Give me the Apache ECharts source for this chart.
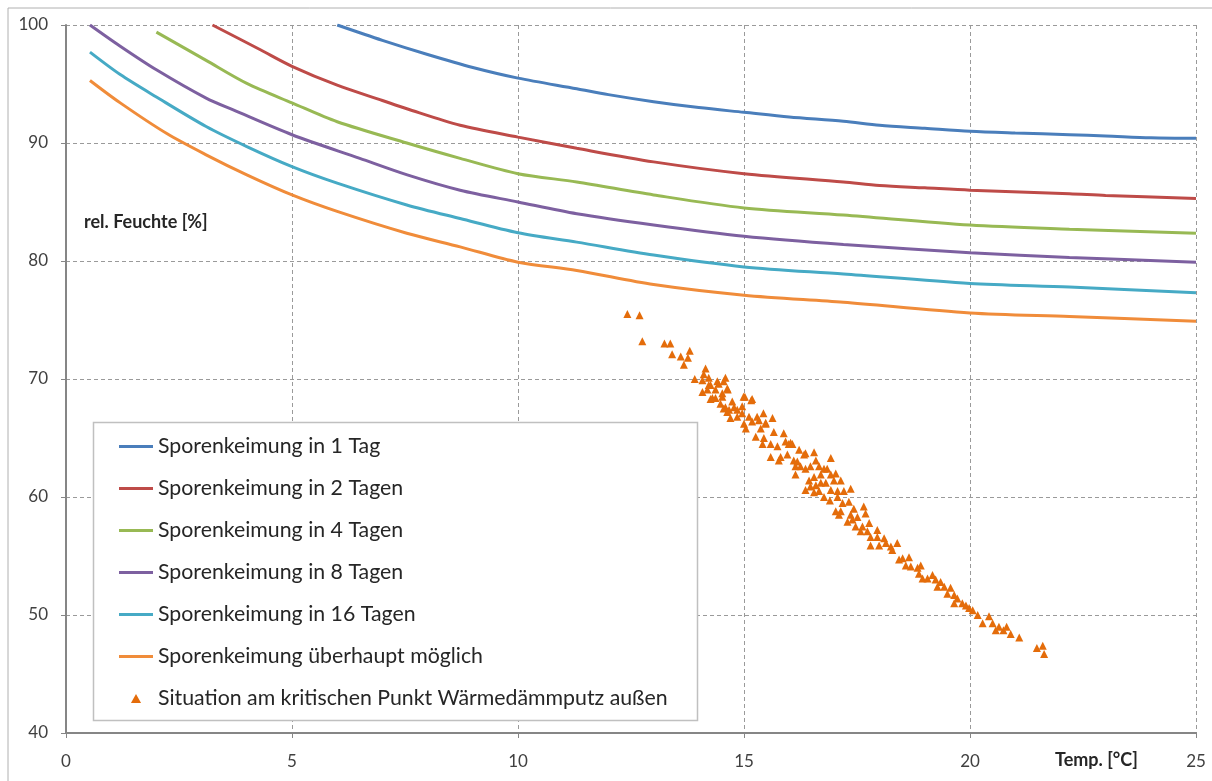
<!DOCTYPE html>
<html><head><meta charset="utf-8">
<script src="https://cdn.jsdelivr.net/npm/echarts@6/dist/echarts.min.js"></script>
<style>html,body{margin:0;padding:0;background:#fff}#c{width:1212px;height:781px}</style>
</head><body><div id="c"></div>
<script>
var seriesNames = ['Sporenkeimung in 1 Tag','Sporenkeimung in 2 Tagen','Sporenkeimung in 4 Tagen','Sporenkeimung in 8 Tagen','Sporenkeimung in 16 Tagen','Sporenkeimung überhaupt möglich','Situation am kritischen Punkt Wärmedämmputz außen'];
var xTicks = [0,5,10,15,20,25];
var yTicks = [40,50,60,70,80,90,100];
var tag1 = [[6.0,100],[7,98.7],[8,97.5],[9,96.4],[10,95.5],[11.3,94.6],[12,94.1],[13,93.5],[14,93.0],[15,92.6],[16,92.2],[17.2,91.85],[18,91.5],[19,91.25],[20,91.0],[21,90.85],[22.2,90.7],[23,90.6],[24,90.45],[25,90.4]];
var tag2 = [[3.24,100],[4.3,97.9],[5,96.5],[6,94.9],[7,93.6],[7.54,92.9],[8.72,91.5],[10,90.5],[11.3,89.55],[13,88.4],[15,87.4],[17.2,86.7],[18,86.4],[19,86.2],[20,86.0],[22.2,85.7],[23,85.55],[25,85.3]];
var tag4 = [[2,99.4],[3.1,97.0],[4,95.05],[5,93.4],[6,91.8],[7.54,90.0],[8.72,88.7],[10,87.4],[11.3,86.7],[13,85.6],[15,84.5],[17.2,83.9],[20,83.05],[22.2,82.7],[25,82.35]];
var tag8 = [[0.53,100],[1.2,98.2],[2,96.2],[3.1,93.8],[3.7,92.8],[5,90.7],[6.5,88.7],[7.55,87.3],[8.72,86.0],[10,85.0],[11.3,84.0],[13,83.05],[15,82.1],[17.2,81.4],[20,80.7],[22.2,80.3],[25,79.9]];
var tag16 = [[0.53,97.7],[1.2,95.8],[2,93.9],[3.1,91.4],[4,89.7],[5,88.0],[6,86.6],[7.54,84.75],[8.72,83.6],[10,82.4],[11.3,81.6],[13,80.5],[15,79.5],[17.2,78.9],[20,78.1],[22.2,77.8],[25,77.3]];
var moeglich = [[0.53,95.3],[1.2,93.4],[2.23,90.8],[3.1,89.0],[4,87.3],[5,85.6],[6,84.2],[7.54,82.35],[8.72,81.2],[10,79.9],[11.3,79.2],[13,78.0],[15,77.1],[17.2,76.5],[20,75.6],[22.2,75.3],[25,74.9]];
var situation = [
[12.42,75.5],[12.69,75.4],[12.75,73.2],[13.24,73.0],[13.37,73.0],[13.41,72.1],[13.60,71.9],[13.76,71.8],[13.80,72.4],[13.67,71.2],
[14.15,70.9],[13.91,70.0],[14.08,69.9],[14.11,70.4],[14.22,70.1],[14.08,68.9],[14.19,69.1],[14.26,69.5],[14.41,69.8],[14.59,70.1],
[14.63,69.2],[14.37,69.1],[14.26,68.3],[14.37,68.4],[14.52,68.5],[14.48,67.9],[14.59,67.6],[14.74,68.1],[14.78,67.6],[14.63,67.2],
[14.70,66.7],[14.85,66.8],[14.96,67.7],[15.02,68.5],[15.18,68.3],[14.96,67.1],[15.11,66.8],[15.29,66.8],[15.43,67.1],[15.63,66.7],
[15.00,66.2],[15.04,65.8],[15.37,65.8],[15.48,66.2],[15.66,65.5],[15.88,65.4],[15.26,65.1],[15.44,65.0],[15.41,64.5],[15.59,64.5],
[15.74,64.3],[15.99,64.5],[16.07,64.5],[15.59,63.4],[15.81,63.4],[15.96,63.6],[16.10,63.1],[16.14,62.6],[16.14,61.9],[14.44,69.6],
[14.55,69.8],[14.22,69.5],[14.52,68.8],[14.64,69.1],[14.30,68.4],[14.55,67.5],[14.67,67.4],[14.85,67.4],[14.99,68.5],[15.16,68.2],
[15.18,66.4],[15.33,66.5],[15.48,66.3],[15.92,64.7],[16.03,64.6],[15.77,63.1],[16.22,64.0],[16.33,63.6],[16.36,63.7],[16.55,63.8],
[16.18,63.0],[16.25,62.6],[16.36,62.4],[16.47,62.6],[16.59,63.1],[16.66,62.6],[16.77,62.4],[16.92,63.3],[16.44,61.4],[16.55,61.7],
[16.70,61.9],[16.84,62.4],[17.03,62.0],[16.92,61.9],[16.36,60.6],[16.47,60.9],[16.59,61.0],[16.70,61.2],[16.81,61.2],[16.99,61.4],
[17.14,61.4],[16.55,60.4],[16.66,60.5],[16.77,60.0],[16.92,60.6],[17.07,60.5],[17.21,60.5],[17.36,60.7],[16.90,59.7],[17.07,60.0],
[17.03,58.8],[17.18,59.5],[17.32,59.6],[17.43,59.0],[17.10,58.5],[17.36,58.5],[17.65,59.2],[17.69,58.6],[17.51,58.3],[17.14,58.8],
[17.29,57.9],[17.40,58.1],[17.47,57.5],[17.62,57.5],[17.77,57.8],[17.58,57.1],[17.73,57.1],[17.95,57.2],[17.80,56.6],[17.95,56.6],
[17.80,55.9],[17.99,55.9],[18.10,56.5],[18.14,56.1],[18.25,55.8],[18.39,56.1],[18.28,55.5],[18.43,54.7],[18.51,54.8],[18.65,54.9],
[18.58,54.2],[18.69,54.1],[18.84,54.0],[18.91,54.2],[18.87,53.5],[18.95,53.1],[19.06,53.1],[19.17,53.4],[19.24,53.0],[19.35,52.8],
[19.28,52.4],[19.43,52.4],[19.57,52.3],[19.50,51.8],[19.65,51.7],[19.72,51.4],[19.65,51.0],[19.83,51.0],[19.91,50.8],[19.98,50.6],
[20.06,50.4],[20.17,50.0],[20.28,49.3],[20.42,49.9],[20.50,49.3],[20.57,48.7],[20.64,49.0],[20.74,48.7],[20.81,49.0],[20.90,48.4],
[21.09,48.1],[21.48,47.2],[21.61,47.4],[21.64,46.7]
];
var lineData = [tag1, tag2, tag4, tag8, tag16, moeglich];
var colors = ['#4A7EBB','#BE4B48','#98B954','#7D60A0','#46AAC5','#F08C3A','#E46C0A'];
var FONT = 'Lato';

var series = lineData.map(function (d, i) {
  return {
    name: seriesNames[i], type: 'line', data: d, symbol: 'none', smooth: 0.3,
    lineStyle: {color: colors[i], width: 3}, itemStyle: {color: colors[i]}, z: 3
  };
});
series.push({
  name: seriesNames[6], type: 'scatter', data: situation, symbol: 'triangle', symbolSize: 8,
  itemStyle: {color: colors[6], opacity: 1}, z: 4
});

var chart = echarts.init(document.getElementById('c'), null, {renderer: 'canvas'});
chart.setOption({
  animation: false,
  backgroundColor: '#fff',
  grid: {left: 66, right: 16, top: 25, bottom: 48, containLabel: false},
  xAxis: {
    type: 'value', min: xTicks[0], max: xTicks[xTicks.length - 1], interval: 5,
    axisLine: {show: true, onZero: false, lineStyle: {color: '#868686', width: 2}},
    axisTick: {show: true, length: 5, lineStyle: {color: '#868686', width: 1}},
    axisLabel: {margin: 20, fontFamily: FONT, fontSize: 17, color: '#404040'},
    splitLine: {show: true, lineStyle: {color: '#9a9a9a', type: [4, 3], width: 1}}
  },
  yAxis: {
    type: 'value', min: yTicks[0], max: yTicks[yTicks.length - 1], interval: 10,
    axisLine: {show: true, onZero: false, lineStyle: {color: '#868686', width: 2}},
    axisTick: {show: true, length: 5, lineStyle: {color: '#868686', width: 1}},
    axisLabel: {margin: 18, fontFamily: FONT, fontSize: 17, color: '#404040'},
    splitLine: {show: true, lineStyle: {color: '#9a9a9a', type: [4, 3], width: 1}}
  },
  legend: {
    orient: 'vertical', left: 119, top: 436, padding: 0,
    itemWidth: 34, itemHeight: 9, itemGap: 21, symbolKeepAspect: true,
    textStyle: {fontFamily: FONT, fontSize: 21.3, color: '#262626'},
    data: seriesNames.map(function (n, i) {
      return i < 6 ? {name: n, icon: 'path://M0,0 L34,0 L34,3 L0,3 Z'} : {name: n, icon: 'path://M0,8 L4.5,0 L9,8 Z'};
    }),
    z: 10
  },
  graphic: [
    {type: 'rect', shape: {x: 8, y: 8, width: 1300, height: 900}, style: {fill: 'none', stroke: '#b0b0b0', lineWidth: 1}, silent: true, z: -1},
    {type: 'rect', shape: {x: 93.5, y: 422.5, width: 604, height: 298}, style: {fill: '#fff', stroke: '#c0c0c0', lineWidth: 1.5}, silent: true, z: 5},
    {type: 'text', left: 84, top: 213, style: {text: 'rel. Feuchte [%]', font: 'bold 18px ' + FONT, fill: '#262626'}, z: 6},
    {type: 'text', left: 1055, top: 751, style: {text: 'Temp. [°C]', font: 'bold 18px ' + FONT, fill: '#262626'}, z: 6}
  ],
  series: series
});
</script></body></html>
